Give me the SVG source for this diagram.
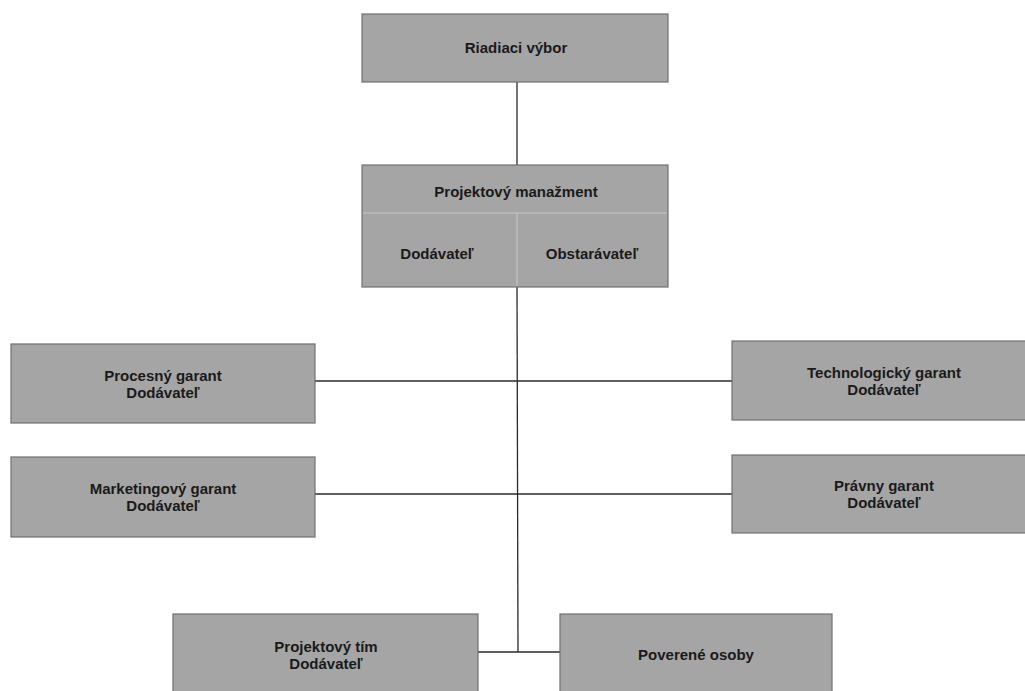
<svg xmlns="http://www.w3.org/2000/svg" width="1025" height="691" viewBox="0 0 1025 691">
<style>
.box{fill:#a5a5a5;stroke:#707070;stroke-width:1.2}
.t{font-family:"Liberation Sans",Arial,sans-serif;font-weight:bold;font-size:15px;fill:#1a1a1a;text-anchor:middle}
.c{stroke:#2a2a2a;stroke-width:1.3;fill:none}
.div{stroke:#c8c8c8;stroke-width:1}
</style>
<rect width="1025" height="691" fill="#ffffff"/>
<g id="connectors">
<line class="c" x1="517" y1="82" x2="517" y2="165"/>
<line class="c" x1="517" y1="287" x2="518" y2="652"/>
<line class="c" x1="315" y1="381" x2="732" y2="381"/>
<line class="c" x1="315" y1="494" x2="732" y2="494"/>
<line class="c" x1="478" y1="652" x2="560" y2="652"/>
</g>
<g id="riadiaci">
<rect class="box" x="362" y="14" width="306" height="68"/>
<text class="t" x="516" y="53">Riadiaci výbor</text>
</g>
<g id="projektovy-manazment">
<rect class="box" x="362" y="165" width="306" height="122"/>
<line class="div" x1="363" y1="213" x2="667" y2="213"/>
<line class="div" x1="517" y1="213" x2="517" y2="286"/>
<text class="t" x="516" y="197">Projektový manažment</text>
<text class="t" x="437" y="259">Dodávateľ</text>
<text class="t" x="592" y="259">Obstarávateľ</text>
</g>
<g id="procesny">
<rect class="box" x="11" y="344" width="304" height="79"/>
<text class="t" x="163" y="381">Procesný garant</text>
<text class="t" x="163" y="398">Dodávateľ</text>
</g>
<g id="marketingovy">
<rect class="box" x="11" y="457" width="304" height="80"/>
<text class="t" x="163" y="494">Marketingový garant</text>
<text class="t" x="163" y="511">Dodávateľ</text>
</g>
<g id="technologicky">
<rect class="box" x="732" y="341" width="300" height="79"/>
<text class="t" x="884" y="378">Technologický garant</text>
<text class="t" x="884" y="395">Dodávateľ</text>
</g>
<g id="pravny">
<rect class="box" x="732" y="455" width="300" height="78"/>
<text class="t" x="884" y="491">Právny garant</text>
<text class="t" x="884" y="508">Dodávateľ</text>
</g>
<g id="projektovy-tim">
<rect class="box" x="173" y="614" width="305" height="85"/>
<text class="t" x="326" y="652">Projektový tím</text>
<text class="t" x="326" y="669">Dodávateľ</text>
</g>
<g id="poverene">
<rect class="box" x="560" y="614" width="272" height="85"/>
<text class="t" x="696" y="660">Poverené osoby</text>
</g>
</svg>
